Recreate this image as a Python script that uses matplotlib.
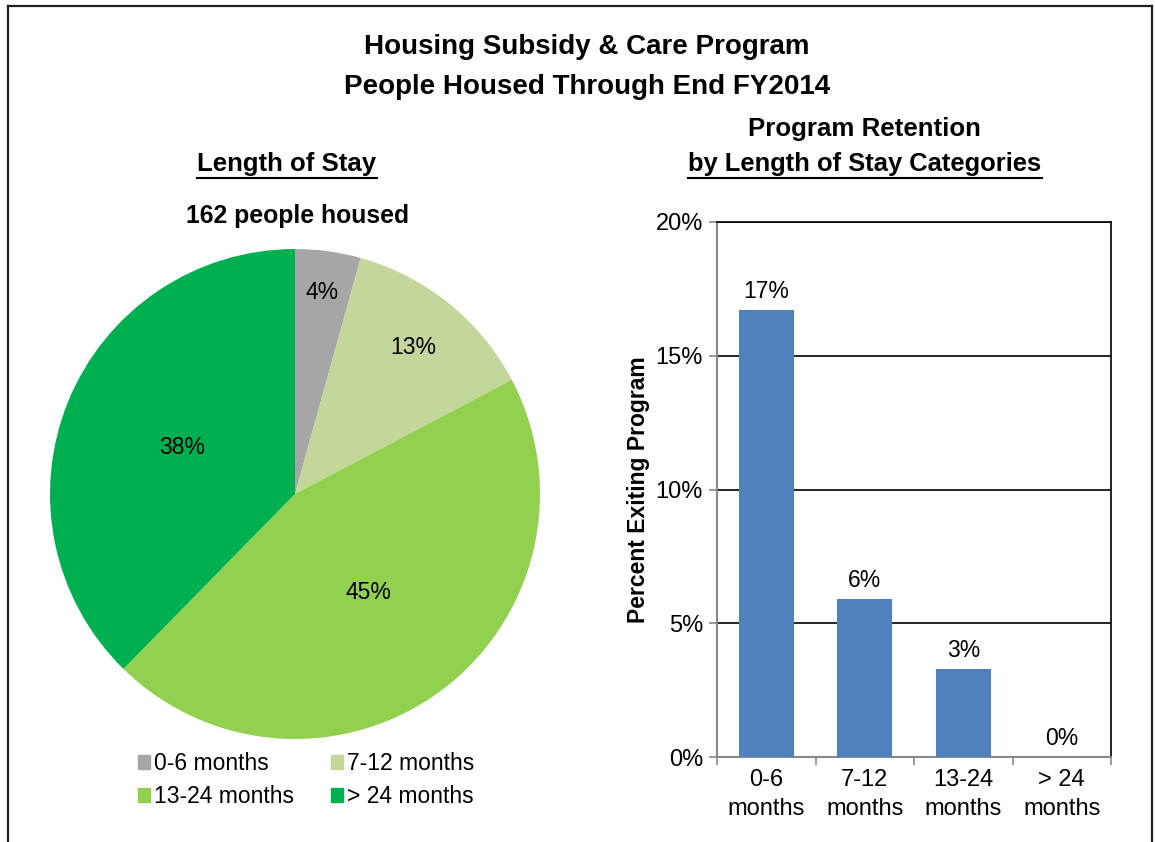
import matplotlib
matplotlib.use("Agg")
import matplotlib.pyplot as plt
from matplotlib.lines import Line2D
import numpy as np

plt.rcParams['font.family'] = ['Liberation Sans', 'DejaVu Sans']

# Data
pie_categories = ["0-6 months", "7-12 months", "13-24 months", "> 24 months"]
pie_counts = [7, 21, 73, 61]  # 162 people housed
pie_colors = ["#A6A6A6", "#C4D79B", "#92D050", "#00B050"]

bar_categories = ["0-6\nmonths", "7-12\nmonths", "13-24\nmonths", "> 24\nmonths"]
bar_values = [16.7, 5.9, 3.3, 0.0]
bar_labels = ["17%", "6%", "3%", "0%"]
yticks = [0, 5, 10, 15, 20]

W, H = 1155, 842
fig = plt.figure(figsize=(W / 100, H / 100), dpi=100)
fig.patch.set_facecolor("white")

def fx(px):
    return px / W

def fy(py):
    return 1 - py / H

# Border
for (x0, y0, x1, y1) in [(8, 6, 1152, 6), (8, 6, 8, 842), (1152, 6, 1152, 842)]:
    fig.add_artist(Line2D([fx(x0), fx(x1)], [fy(y0), fy(y1)], color="#222222", lw=1.6,
                          transform=fig.transFigure))

# Titles
fig.text(fx(587), fy(47), "Housing Subsidy & Care Program", ha="center", va="center",
         fontsize=20, fontweight="bold")
fig.text(fx(587), fy(87), "People Housed Through End FY2014", ha="center", va="center",
         fontsize=20, fontweight="bold")
t1 = fig.text(fx(287), fy(164), "Length of Stay", ha="center", va="center",
              fontsize=18.5, fontweight="bold")
fig.text(fx(298), fy(216), "162 people housed", ha="center", va="center",
         fontsize=17.8, fontweight="bold")
fig.text(fx(864), fy(129), "Program Retention", ha="center", va="center",
         fontsize=18.6, fontweight="bold")
t2 = fig.text(fx(865), fy(164), "by Length of Stay Categories", ha="center", va="center",
              fontsize=18.4, fontweight="bold")

# Pie
cx, cy, r = 295, 494, 245
ax_pie = fig.add_axes([fx(cx - r), fy(cy + r), (2 * r) / W, (2 * r) / H])
wedges, _ = ax_pie.pie(pie_counts, colors=pie_colors, startangle=90, counterclock=False,
                       wedgeprops=dict(linewidth=0))
ax_pie.set_xlim(-1, 1)
ax_pie.set_ylim(-1, 1)
ax_pie.set_aspect("equal")
ax_pie.axis("off")
total = sum(pie_counts)
label_r = [0.83, 0.77, 0.5, 0.5]
for w, c, lr in zip(wedges, pie_counts, label_r):
    mid = np.deg2rad((w.theta1 + w.theta2) / 2)
    ax_pie.text(lr * np.cos(mid), lr * np.sin(mid), "%.0f%%" % (100 * c / total),
                ha="center", va="center", fontsize=16.5)

# Pie legend (row-wise order like the reference)
leg_ax = fig.add_axes([fx(131), fy(815), fx(490) - fx(131), fy(742) - fy(815)])
leg_ax.axis("off")
handles = [plt.Rectangle((0, 0), 1, 1, color=c) for c in pie_colors]
order = [0, 2, 1, 3]
leg = leg_ax.legend([handles[i] for i in order], [pie_categories[i] for i in order],
                    ncol=2, loc="center left", bbox_to_anchor=(0, 0.48), frameon=False,
                    fontsize=16.5, borderaxespad=0, borderpad=0.3,
                    handlelength=0.55, handleheight=0.55, handletextpad=0.15,
                    columnspacing=1.6, labelspacing=0.45)

# Bar chart
ax = fig.add_axes([fx(717), fy(757), fx(1111) - fx(717), fy(222) - fy(757)])
x = np.arange(len(bar_categories))
bars = ax.bar(x, bar_values, width=0.56, color="#4F81BD", zorder=3)
ax.bar_label(bars, labels=bar_labels, padding=5, fontsize=16.5)
ax.set_xlim(-0.5, len(bar_categories) - 0.5)
ax.set_ylim(0, 20)
ax.set_yticks(yticks)
ax.set_yticklabels(["%d%%" % v for v in yticks], fontsize=17)
ax.set_xticks(x)
ax.set_xticklabels(bar_categories, fontsize=17, linespacing=1.38)
ax.tick_params(axis="x", length=0, pad=9)
ax.set_xticks(np.arange(len(bar_categories) + 1) - 0.5, minor=True)
ax.tick_params(axis="x", which="minor", length=6, color="#888888", width=1.2)
ax.tick_params(axis="y", length=6, color="#888888", width=1.2, pad=4)
ax.grid(axis="y", color="black", lw=1.2, zorder=1)
for s in ["left", "bottom"]:
    ax.spines[s].set_color("#888888")
    ax.spines[s].set_linewidth(1.5)
for s in ["top", "right"]:
    ax.spines[s].set_color("black")
    ax.spines[s].set_linewidth(1.2)
ax.set_ylabel("Percent Exiting Program", fontsize=16.5, fontweight="bold", labelpad=4)

# Underlines
fig.canvas.draw()
for t in (t1, t2):
    bb = t.get_window_extent()
    yline = bb.y0 - 2
    fig.add_artist(Line2D([bb.x0 / W, bb.x1 / W], [yline / H, yline / H], color="black",
                          lw=1.5, transform=fig.transFigure))

fig.savefig("out.png", dpi=100)
